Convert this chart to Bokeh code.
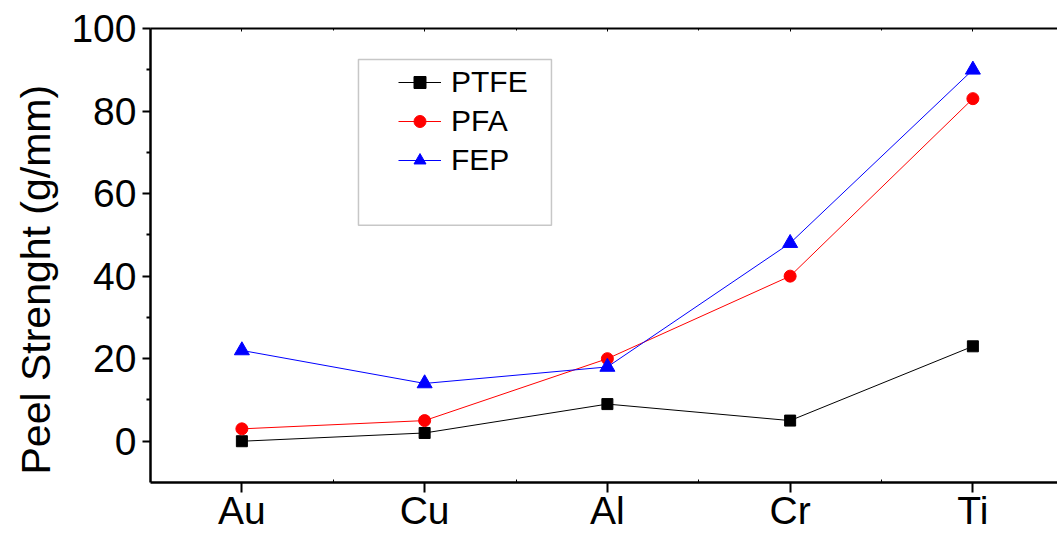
from bokeh.plotting import figure
from bokeh.models import (Range1d, FixedTicker, LinearAxis, Legend, LegendItem,
                          BoxAnnotation, ColumnDataSource, Title)
from bokeh.embed import file_html
from bokeh.resources import INLINE

categories = ["Au", "Cu", "Al", "Cr", "Ti"]
ptfe = [0, 2, 9, 5, 23]
pfa = [3, 5, 20, 40, 83]
fep = [22, 14, 18, 48, 90]
y_ticks = [0, 20, 40, 60, 80, 100]
y_minor = [10, 30, 50, 70, 90]
y_title = "Peel Strenght (g/mm)"

xs = list(range(1, len(categories) + 1))
FONT = "Liberation Sans"

p = figure(width=1057, height=535, output_backend="svg", toolbar_location=None,
           x_range=Range1d(0.5, 5.463), y_range=Range1d(-10, 100),
           min_border_left=150, min_border_right=0, min_border_top=28,
           min_border_bottom=53, x_axis_type=None, y_axis_type=None)
p.outline_line_color = None
p.xgrid.visible = False
p.ygrid.visible = False
p.background_fill_color = "white"
p.border_fill_color = "white"

xt = FixedTicker(ticks=xs, minor_ticks=[1.5, 2.5, 3.5, 4.5])
xaxis = LinearAxis(ticker=xt, major_label_overrides={i + 1: c for i, c in enumerate(categories)})
xaxis.major_label_text_font = FONT
xaxis.major_label_text_font_size = "39px"
xaxis.major_label_text_color = "black"
xaxis.major_label_standoff = -4
xaxis.axis_line_width = 2.5
xaxis.axis_line_color = "black"
xaxis.major_tick_out = 10
xaxis.major_tick_in = 0
xaxis.major_tick_line_width = 2
xaxis.minor_tick_in = 3
xaxis.minor_tick_out = 0
xaxis.minor_tick_line_width = 1
p.add_layout(xaxis, "below")

yt = FixedTicker(ticks=y_ticks, minor_ticks=y_minor)
yaxis = LinearAxis(ticker=yt)
yaxis.major_label_text_font = FONT
yaxis.major_label_text_font_size = "39px"
yaxis.major_label_text_color = "black"
yaxis.major_label_standoff = 6
yaxis.axis_line_width = 2.5
yaxis.axis_line_color = "black"
yaxis.major_tick_out = 8
yaxis.major_tick_in = 0
yaxis.major_tick_line_width = 2
yaxis.minor_tick_out = 4
yaxis.minor_tick_in = 0
yaxis.minor_tick_line_width = 2
p.add_layout(yaxis, "left")

taxis = LinearAxis(ticker=xt, major_label_overrides={i + 1: "" for i in range(len(categories))})
taxis.major_label_text_font_size = "1px"
taxis.major_label_standoff = 0
taxis.axis_line_width = 2
taxis.axis_line_color = "black"
taxis.major_tick_in = 3
taxis.major_tick_out = 0
taxis.minor_tick_in = 2
taxis.minor_tick_out = 0
p.add_layout(taxis, "above")

p.add_layout(Title(text=y_title, align="left", offset=8, text_font=FONT,
                   text_font_size="41px", text_font_style="normal", text_color="black",
                   standoff=19), "left")

src = ColumnDataSource(dict(x=xs, ptfe=ptfe, pfa=pfa, fep=fep))

l1 = p.line("x", "ptfe", source=src, line_color="black", line_width=1)
m1 = p.scatter("x", "ptfe", source=src, marker="square", size=11, fill_color="black", line_color="black")
l2 = p.line("x", "pfa", source=src, line_color="red", line_width=1)
m2 = p.scatter("x", "pfa", source=src, marker="circle", size=12, fill_color="red", line_color="red")
l3 = p.line("x", "fep", source=src, line_color="blue", line_width=1)
m3 = p.scatter("x", "fep", source=src, marker="triangle", size=15, fill_color="blue", line_color="blue")

# legend frame
p.add_layout(BoxAnnotation(left=1.638, right=2.694, top=92.5, bottom=52.3,
                           fill_alpha=0, line_color="#444444", line_width=1.5))

legend = Legend(items=[LegendItem(label="PTFE", renderers=[l1, m1]),
                       LegendItem(label="PFA", renderers=[l2, m2]),
                       LegendItem(label="FEP", renderers=[l3, m3])],
                location=(248, 305), padding=0, margin=0, spacing=5,
                glyph_width=43, glyph_height=30, label_height=30,
                label_standoff=10, label_text_font=FONT, label_text_font_size="30px",
                label_text_color="black",
                border_line_color=None, background_fill_alpha=0)
p.add_layout(legend, "center")

open("out.html", "w").write(file_html(p, INLINE))
